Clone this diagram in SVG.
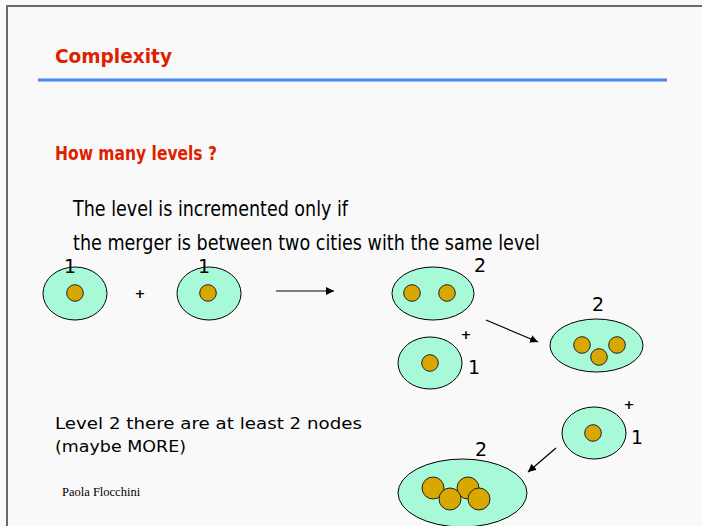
<svg xmlns="http://www.w3.org/2000/svg" width="702" height="526" viewBox="0 0 702 526">
<defs>
<style>
.bg{fill:#f9f9f9}
.frame{stroke:#6a6a6a;stroke-width:2;fill:none}
.title{font-family:"DejaVu Sans","Liberation Sans",sans-serif;font-weight:bold;fill:#dd2200;font-size:19px}
.body{font-family:"DejaVu Sans","Liberation Sans",sans-serif;fill:#000;font-size:22px}
.small{font-family:"DejaVu Sans","Liberation Sans",sans-serif;fill:#000;font-size:16.5px}
.lbl{font-family:"DejaVu Sans","Liberation Sans",sans-serif;fill:#000;font-size:19px;text-anchor:middle}
.plus{font-family:"DejaVu Sans","Liberation Sans",sans-serif;fill:#000;font-size:13px;font-weight:bold;text-anchor:middle}
.author{font-family:"Liberation Serif",serif;fill:#000;font-size:12.5px}
.city{fill:#a8f9d8;stroke:#000;stroke-width:1}
.node{fill:#d8a800;stroke:#222;stroke-width:1}
.conn{stroke:#000;stroke-width:1.2;fill:none}
</style>
<marker id="ah" viewBox="0 0 10 10" refX="10" refY="5" markerWidth="8" markerHeight="8" markerUnits="userSpaceOnUse" orient="auto">
<path d="M0,0 L10,5 L0,10 z" fill="#000"/>
</marker>
</defs>
<rect class="bg" x="0" y="0" width="702" height="526"/>
<path class="frame" d="M7,526 L7,6 L702,6"/>
<text class="title" x="55" y="63" textLength="117" lengthAdjust="spacingAndGlyphs">Complexity</text>
<rect x="38" y="78.5" width="629" height="3" fill="#4a86f5"/>
<text class="title" x="55" y="160" textLength="162" lengthAdjust="spacingAndGlyphs">How many levels ?</text>
<text class="body" x="73" y="216" textLength="275" lengthAdjust="spacingAndGlyphs">The level is incremented only if</text>
<text class="body" x="73" y="250" textLength="467" lengthAdjust="spacingAndGlyphs">the merger is between two cities with the same level</text>
<text class="small" x="55" y="429" textLength="307" lengthAdjust="spacingAndGlyphs">Level 2 there are at least 2 nodes</text>
<text class="small" x="55" y="452" textLength="131" lengthAdjust="spacingAndGlyphs">(maybe MORE)</text>
<text class="author" x="62" y="496">Paola Flocchini</text>

<g id="cityA">
<ellipse class="city" cx="75" cy="293.5" rx="32" ry="26.5"/>
<circle class="node" cx="75" cy="293" r="8.3"/>
<text class="lbl" x="70" y="273">1</text>
</g>
<text class="plus" x="140" y="298">+</text>
<g id="cityB">
<ellipse class="city" cx="209" cy="293.5" rx="32" ry="26.5"/>
<circle class="node" cx="208" cy="293" r="8.3"/>
<text class="lbl" x="204" y="273">1</text>
</g>
<g id="cityC">
<ellipse class="city" cx="433" cy="293.5" rx="41" ry="26.5"/>
<circle class="node" cx="412" cy="293" r="8.3"/>
<circle class="node" cx="447" cy="293" r="8.3"/>
<text class="lbl" x="480" y="272">2</text>
</g>
<text class="plus" x="466" y="339">+</text>
<g id="cityD">
<ellipse class="city" cx="430" cy="363" rx="32" ry="26"/>
<circle class="node" cx="430" cy="363" r="8.3"/>
<text class="lbl" x="474" y="374">1</text>
</g>
<g id="cityE">
<ellipse class="city" cx="596.5" cy="345.5" rx="46.5" ry="26.5"/>
<circle class="node" cx="582" cy="345" r="8.3"/>
<circle class="node" cx="617" cy="345" r="8.3"/>
<circle class="node" cx="599" cy="357" r="8.3"/>
<text class="lbl" x="598" y="311">2</text>
</g>
<text class="plus" x="629" y="409">+</text>
<g id="cityF">
<ellipse class="city" cx="594" cy="433" rx="32" ry="26"/>
<circle class="node" cx="593" cy="433" r="8.3"/>
<text class="lbl" x="637" y="444">1</text>
</g>
<g id="cityG">
<ellipse class="city" cx="462.5" cy="493" rx="64.5" ry="34"/>
<circle class="node" cx="433" cy="488" r="11"/>
<circle class="node" cx="468" cy="488" r="11"/>
<circle class="node" cx="450" cy="499" r="11"/>
<circle class="node" cx="479" cy="499" r="11"/>
<text class="lbl" x="481" y="456">2</text>
</g>
<g id="connectors">
<line class="conn" x1="276" y1="291" x2="334" y2="291" marker-end="url(#ah)"/>
<line class="conn" x1="486" y1="320" x2="538" y2="342" marker-end="url(#ah)"/>
<line class="conn" x1="556" y1="448" x2="528" y2="472" marker-end="url(#ah)"/>
</g>
</svg>
